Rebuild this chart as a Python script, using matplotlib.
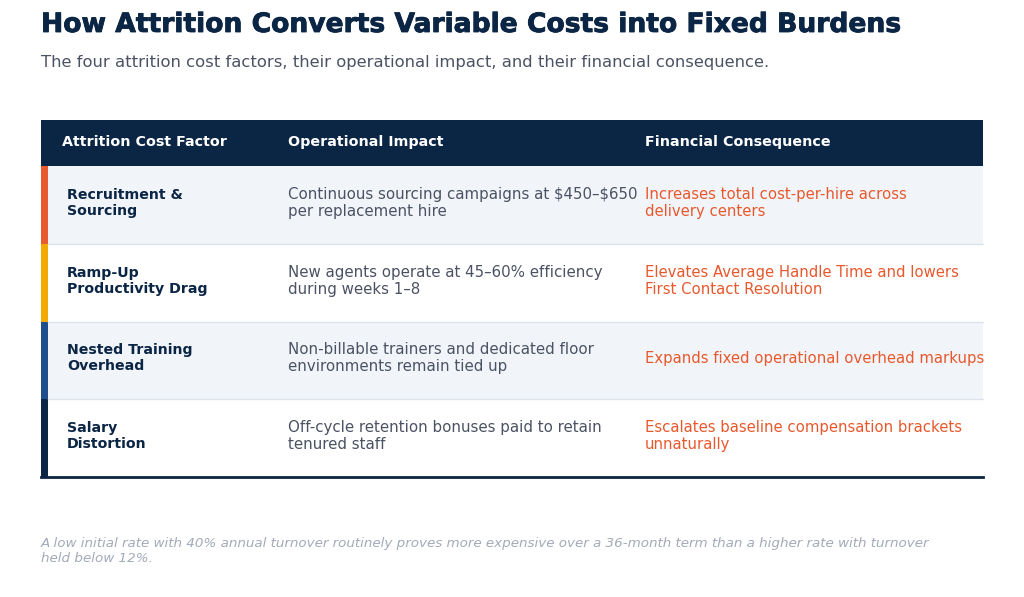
import matplotlib
matplotlib.use("Agg")
import matplotlib.pyplot as plt
from matplotlib.patches import Rectangle
import matplotlib.patheffects as pe

# ---- data ----
title = "How Attrition Converts Variable Costs into Fixed Burdens"
subtitle = "The four attrition cost factors, their operational impact, and their financial consequence."
headers = ["Attrition Cost Factor", "Operational Impact", "Financial Consequence"]
factors = ["Recruitment &\nSourcing", "Ramp-Up\nProductivity Drag", "Nested Training\nOverhead", "Salary\nDistortion"]
impacts = ["Continuous sourcing campaigns at $450\u2013$650\nper replacement hire",
           "New agents operate at 45\u201360% efficiency\nduring weeks 1\u20138",
           "Non-billable trainers and dedicated floor\nenvironments remain tied up",
           "Off-cycle retention bonuses paid to retain\ntenured staff"]
consequences = ["Increases total cost-per-hire across\ndelivery centers",
                "Elevates Average Handle Time and lowers\nFirst Contact Resolution",
                "Expands fixed operational overhead markups",
                "Escalates baseline compensation brackets\nunnaturally"]
footnote = ("A low initial rate with 40% annual turnover routinely proves more expensive over a 36-month term than a higher rate with turnover\n"
            "held below 12%.")

# ---- style ----
accents = ["#E85A30", "#F2A900", "#1F4E8C", "#0B2545"]
NAVY = "#0B2545"
ORANGE = "#E8582C"
GRAY = "#4A5263"
LIGHT = "#F1F5FA"
FONT = "DejaVu Sans"

fig = plt.figure(figsize=(10.24, 5.97), dpi=100)
ax = fig.add_axes([0, 0, 1, 1])
ax.set_xlim(0, 1024)
ax.set_ylim(597, 0)
ax.axis("off")

fig.canvas.draw()
renderer = fig.canvas.get_renderer()

def fit(t, target_w):
    for _ in range(3):
        w = t.get_window_extent(renderer).width
        t.set_fontsize(t.get_fontsize() * target_w / w)

t = ax.text(41, 25, title, fontsize=24, fontweight="bold", color=NAVY, family=FONT,
            va="center", ha="left", parse_math=False,
            path_effects=[pe.withStroke(linewidth=0.6, foreground=NAVY)])
fit(t, 860)
s = ax.text(41, 63, subtitle, fontsize=12, color="#4A5263", family=FONT,
            va="center", ha="left", parse_math=False)
fit(s, 726)

left, right = 41, 983
head_top, head_bot = 120, 166
row_h = 77.75
col_x = [67, 288, 645]

ax.add_patch(Rectangle((left, head_top), right - left, head_bot - head_top, color=NAVY, lw=0))
for i, h in enumerate(headers):
    x = 62 if i == 0 else col_x[i]
    ax.text(x, 142, h, fontsize=10.3, fontweight="bold", color="white", family=FONT,
            va="center", ha="left", parse_math=False)

clip = Rectangle((0, 0), right, 597, transform=ax.transData, visible=False)
ax.add_patch(clip)

for r in range(len(factors)):
    y0 = head_bot + r * row_h
    bg = LIGHT if r % 2 == 0 else "white"
    ax.add_patch(Rectangle((left, y0), right - left, row_h, color=bg, lw=0))
    ax.add_patch(Rectangle((left, y0), 7, row_h, color=accents[r], lw=0))
    if r < len(factors) - 1:
        ax.plot([left + 7, right], [y0 + row_h, y0 + row_h], color="#DDE3EA", lw=1)
    yc = y0 + row_h / 2 - 2
    ax.text(col_x[0], yc, factors[r], fontsize=10.2, fontweight="bold", color=NAVY, family=FONT,
            va="center", ha="left", linespacing=1.2, parse_math=False)
    ax.text(col_x[1], yc, impacts[r], fontsize=10.8, color=GRAY, family=FONT,
            va="center", ha="left", linespacing=1.15, parse_math=False)
    ct = ax.text(col_x[2], yc, consequences[r], fontsize=10.75, color=ORANGE, family=FONT,
                 va="center", ha="left", linespacing=1.15, parse_math=False)
    ct.set_clip_path(clip)

bottom = head_bot + len(factors) * row_h
ax.plot([left, right], [bottom, bottom], color=NAVY, lw=2)

ax.text(41, 551, footnote, fontsize=9.7, style="italic", color="#A3AAB8", family=FONT,
        va="center", ha="left", linespacing=1.2, parse_math=False)

fig.savefig("out.png", dpi=100)
